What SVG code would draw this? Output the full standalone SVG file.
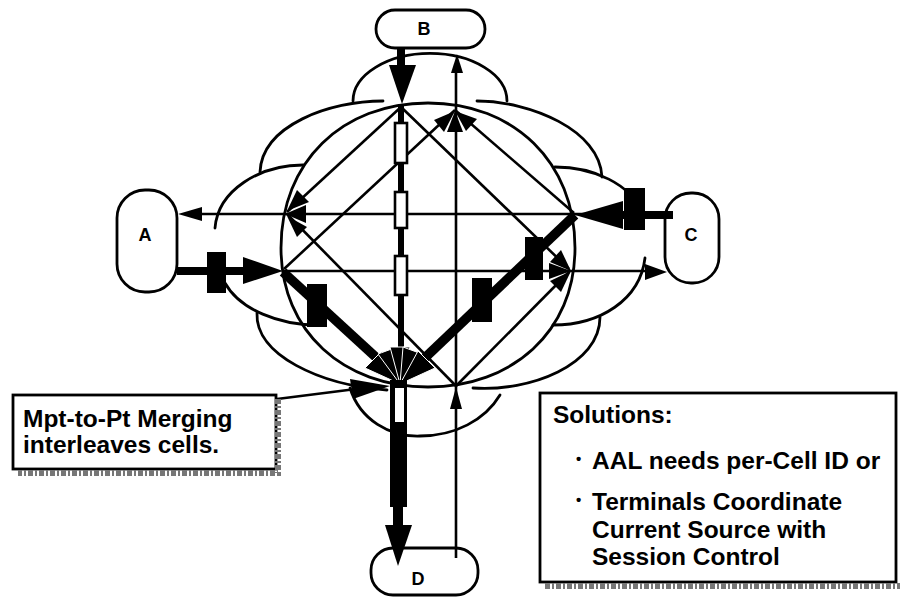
<svg xmlns="http://www.w3.org/2000/svg" width="900" height="597" viewBox="0 0 900 597">
  <style>
    .cl { fill: none; stroke: #000; stroke-width: 2.8; stroke-linecap: round; }
    .ln { fill: none; stroke: #000; stroke-width: 2.6; stroke-linecap: butt; }
    .fat { fill: none; stroke: #000; stroke-width: 9.5; }
    .hd { fill: #000; }
    .fan { fill: #000; stroke: #fff; stroke-width: 1; stroke-linejoin: miter; }
    .blk { fill: #000; }
    .cell { fill: #fff; stroke: #000; stroke-width: 2.6; }
    .pill { fill: #fff; stroke: #000; stroke-width: 2.8; }
    .lbl { font-family: "Liberation Sans", Arial, sans-serif; font-weight: bold; font-size: 18px; text-anchor: middle; fill: #000; }
    .note { font-family: "Liberation Sans", Arial, sans-serif; font-weight: bold; font-size: 24.5px; fill: #000; }
    .bul { font-family: "Liberation Sans", Arial, sans-serif; font-weight: bold; font-size: 15px; fill: #000; }
    .box { fill: #fff; stroke: #000; stroke-width: 2.8; }
    .shadow { fill: none; stroke: #777; stroke-width: 6; stroke-dasharray: 5 2 2 2; }
  </style>

  <!-- network cloud: overlapping lobes around the switching mesh -->
  <g id="cloud">
    <path class="cl" d="M353,101 A76,47 0 0 1 507,101"/>
    <path class="cl" d="M383,101 C330,101 262,125 260,172"/>
    <path class="cl" d="M303,165 C260,165 218,190 215,228"/>
    <path class="cl" d="M477,101 C530,101 600,130 602,177"/>
    <path class="cl" d="M555,167 C595,167 630,185 640,210"/>
    <path class="cl" d="M645,258 C640,300 600,325 553,325"/>
    <path class="cl" d="M600,317 C600,365 530,392 473,388"/>
    <path class="cl" d="M225,283 C240,310 280,325 317,325"/>
    <path class="cl" d="M257,313 C255,355 320,385 387,390"/>
    <path class="cl" d="M350,388 C360,420 390,437 420,436 C455,436 485,420 500,395"/>
    <path class="cl" d="M428,103 C514,103 575,162 575,248 C575,332 512,387 428,387 C344,387 281,332 281,248 C281,162 342,103 428,103 Z"/>
  </g>

  <!-- end systems -->
  <g id="node-B">
    <rect class="pill" x="376" y="10" width="109" height="38" rx="19"/>
    <text class="lbl" x="424" y="35">B</text>
  </g>
  <g id="node-A">
    <rect class="pill" x="117" y="190" width="60" height="102" rx="28"/>
    <text class="lbl" x="145" y="241">A</text>
  </g>
  <g id="node-C">
    <rect class="pill" x="665" y="193" width="54" height="90" rx="26"/>
    <text class="lbl" x="691" y="241">C</text>
  </g>
  <g id="node-D">
    <rect class="pill" x="371" y="548" width="107" height="47" rx="22"/>
    <text class="lbl" x="418" y="585">D</text>
  </g>

  <!-- connectors -->
  <g id="connectors">
    <!-- thin paths through the mesh -->
    <path class="ln" d="M200,214 L622,214"/>
    <path class="ln" d="M282,271 L647,271"/>
    <path class="ln" d="M456,558 L456,70"/>
    <path class="ln" d="M401,107 L287,212"/>
    <path class="ln" d="M401,107 L569,269"/>
    <path class="ln" d="M455,110 L284,269"/>
    <path class="ln" d="M455,110 L574,213"/>
    <path class="ln" d="M287,214 L456,386"/>
    <path class="ln" d="M569,272 L456,386"/>

    <!-- thin arrowheads -->
    <polygon class="hd" points="178,214 202,207 202,221"/>
    <polygon class="hd" points="667,272 645,264 645,280"/>
    <polygon class="hd" points="457,54 451,73 463,73"/>
    <polygon class="hd" points="456,387 450,409 462,409"/>

    <!-- merge point toward A -->
    <polygon class="hd" points="285,214 306,205 306,223"/>
    <polygon class="hd" points="287,211 309,202 297,190"/>
    <polygon class="hd" points="287,216 307,227 297,237"/>

    <!-- merge point toward B -->
    <polygon class="hd" points="455,111 444,132 434,120"/>
    <polygon class="hd" points="455,111 447,132 463,132"/>
    <polygon class="hd" points="455,111 466,131 477,119"/>

    <!-- merge point toward C -->
    <polygon class="hd" points="571,271 550,262 561,250"/>
    <polygon class="hd" points="571,271 549,263 549,279"/>
    <polygon class="hd" points="571,271 561,292 550,281"/>

    <!-- B to D trunk -->
    <line x1="401" y1="48" x2="401" y2="67" stroke="#000" stroke-width="8"/>
    <polygon class="hd" points="389,65 416,65 402,104"/>
    <line x1="401" y1="104" x2="401" y2="372" stroke="#000" stroke-width="6"/>
    <rect class="cell" x="395" y="123" width="12" height="40"/>
    <rect class="cell" x="395" y="192" width="12" height="36"/>
    <rect class="cell" x="395" y="256" width="12" height="39"/>

    <!-- A to merge point -->
    <line x1="177" y1="271" x2="246" y2="271" stroke="#000" stroke-width="8"/>
    <rect class="blk" x="207" y="252" width="19" height="41"/>
    <polygon class="hd" points="243,257 243,284 283,271"/>
    <path class="fat" d="M283,272 L392,372"/>
    <rect class="blk" x="307" y="284" width="20" height="43"/>

    <!-- C to merge point -->
    <line x1="673" y1="215" x2="620" y2="215" stroke="#000" stroke-width="8"/>
    <rect class="blk" x="624" y="188" width="21" height="42"/>
    <polygon class="hd" points="623,201 623,229 575,215"/>
    <path class="fat" d="M575,215 L410,372"/>
    <rect class="blk" x="525" y="237" width="18" height="43"/>
    <rect class="blk" x="472" y="278" width="20" height="44"/>

    <!-- merge fan toward D -->
    <polygon class="fan" points="400,384 365,368 382,351"/>
    <polygon class="fan" points="400,384 378,354 397,347"/>
    <polygon class="fan" points="400,384 390,347 410,347"/>
    <polygon class="fan" points="400,384 403,347 422,354"/>
    <polygon class="fan" points="400,384 418,351 435,368"/>

    <!-- merged stream down to D -->
    <rect class="blk" x="390" y="380" width="17" height="127"/>
    <rect x="395" y="388" width="9" height="34" fill="#fff"/>
    <rect class="blk" x="393" y="505" width="10" height="22"/>
    <polygon class="hd" points="385,525 412,525 398,566"/>

    <!-- callout pointer -->
    <path class="ln" d="M277,399 L356,389"/>
    <polygon class="hd" points="350,379 353,399 390,386"/>
  </g>

  <!-- callout: merging -->
  <g id="note-merge">
    <rect class="box" x="13" y="395" width="263" height="74"/>
    <path class="shadow" d="M278,399 L278,473 L18,473"/>
    <text class="note" x="23" y="427">Mpt-to-Pt Merging</text>
    <text class="note" x="23" y="453">interleaves cells.</text>
  </g>

  <!-- callout: solutions -->
  <g id="note-solutions">
    <rect class="box" x="540" y="393" width="356" height="189"/>
    <path class="shadow" d="M545,586 L900,586"/>
    <text class="note" x="553" y="423">Solutions:</text>
    <text class="bul" x="576" y="464">•</text>
    <text class="note" x="592" y="469">AAL needs per-Cell ID or</text>
    <text class="bul" x="576" y="505">•</text>
    <text class="note" x="592" y="510">Terminals Coordinate</text>
    <text class="note" x="592" y="538">Current Source with</text>
    <text class="note" x="592" y="565">Session Control</text>
  </g>
</svg>
